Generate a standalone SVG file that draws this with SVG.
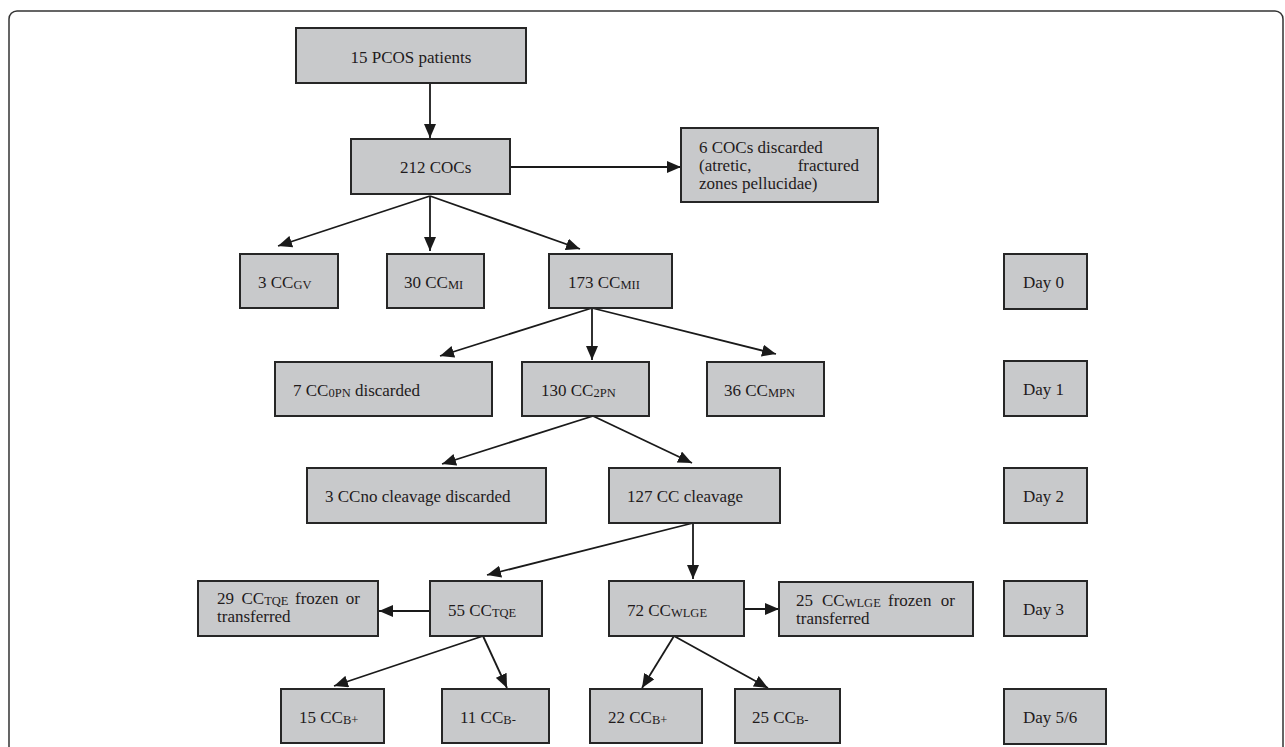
<svg xmlns="http://www.w3.org/2000/svg" width="1285" height="747" viewBox="0 0 1285 747">
<defs>
<marker id="ah" viewBox="0 0 14 12" refX="14" refY="6" markerWidth="14" markerHeight="12" markerUnits="userSpaceOnUse" orient="auto">
<path d="M0,0 L14,6 L0,12 z" fill="#1a1a1a"/>
</marker>
<style>
.box{fill:#c8c9cb;stroke:#262626;stroke-width:2}
text{font-family:"Liberation Serif","Times New Roman",serif;font-size:17px;fill:#1f1b1c}
.sub{font-size:12.5px}
.c{text-anchor:middle}
.e{text-anchor:end}
#connectors line{stroke:#1a1a1a;stroke-width:1.8;fill:none;marker-end:url(#ah)}
</style>
</defs>
<rect x="9" y="11" width="1274" height="800" rx="8" fill="none" stroke="#333" stroke-width="1.5"/>

<g id="connectors">
<line x1="430" y1="83" x2="430" y2="138"/>
<line x1="484" y1="167" x2="681" y2="167"/>
<line x1="430" y1="196" x2="278" y2="246"/>
<line x1="430" y1="196" x2="430" y2="251"/>
<line x1="430" y1="196" x2="580" y2="249"/>
<line x1="592" y1="308" x2="440" y2="356"/>
<line x1="592" y1="308" x2="592" y2="360"/>
<line x1="592" y1="308" x2="776" y2="354"/>
<line x1="593" y1="416" x2="442" y2="464"/>
<line x1="593" y1="416" x2="692" y2="463"/>
<line x1="693" y1="523" x2="487" y2="575"/>
<line x1="693" y1="523" x2="693" y2="579"/>
<line x1="441" y1="611" x2="379" y2="611"/>
<line x1="734" y1="609" x2="779" y2="609"/>
<line x1="483" y1="636" x2="334" y2="686"/>
<line x1="483" y1="636" x2="507" y2="688"/>
<line x1="674" y1="636" x2="642" y2="688"/>
<line x1="674" y1="636" x2="768" y2="688"/>
</g>

<g id="n-pcos"><rect class="box" x="296" y="28" width="230" height="55"/><text class="c" x="411" y="63">15 PCOS patients</text></g>
<g id="n-cocs"><rect class="box" x="351" y="139" width="159" height="55"/><text x="400" y="173">212 COCs</text></g>
<g id="n-discarded"><rect class="box" x="681" y="128" width="197" height="74"/>
<text x="699" y="153">6 COCs discarded</text>
<text x="699" y="171">(atretic,</text><text class="e" x="859" y="171">fractured</text>
<text x="699" y="189">zones pellucidae)</text></g>

<g id="n-gv"><rect class="box" x="240" y="254" width="98" height="54"/><text x="258" y="288">3 CC<tspan class="sub" dy="1">GV</tspan></text></g>
<g id="n-mi"><rect class="box" x="387" y="254" width="97" height="54"/><text x="404" y="288">30 CC<tspan class="sub" dy="1">MI</tspan></text></g>
<g id="n-mii"><rect class="box" x="549" y="254" width="123" height="54"/><text x="568" y="288">173 CC<tspan class="sub" dy="1">MII</tspan></text></g>

<g id="n-0pn"><rect class="box" x="275" y="362" width="217" height="54"/><text x="293" y="396">7 CC<tspan class="sub" dy="1">0PN</tspan><tspan dy="-1"> discarded</tspan></text></g>
<g id="n-2pn"><rect class="box" x="522" y="362" width="127" height="54"/><text x="541" y="396">130 CC<tspan class="sub" dy="1">2PN</tspan></text></g>
<g id="n-mpn"><rect class="box" x="707" y="362" width="117" height="54"/><text x="724" y="396">36 CC<tspan class="sub" dy="1">MPN</tspan></text></g>

<g id="n-nocleave"><rect class="box" x="307" y="468" width="239" height="55"/><text x="325" y="502">3 CCno cleavage discarded</text></g>
<g id="n-cleave"><rect class="box" x="609" y="468" width="171" height="55"/><text x="627" y="502">127 CC cleavage</text></g>

<g id="n-tqe-frozen"><rect class="box" x="198" y="581" width="180" height="55"/>
<text x="217" y="604">29</text><text x="241.5" y="604">CC<tspan class="sub" dy="1">TQE</tspan></text><text x="295" y="604">frozen</text><text class="e" x="360" y="604">or</text>
<text x="217" y="622">transferred</text></g>
<g id="n-tqe"><rect class="box" x="430" y="581" width="112" height="55"/><text x="448" y="616">55 CC<tspan class="sub" dy="1">TQE</tspan></text></g>
<g id="n-wlge"><rect class="box" x="609" y="581" width="135" height="55"/><text x="627" y="616">72 CC<tspan class="sub" dy="1">WLGE</tspan></text></g>
<g id="n-wlge-frozen"><rect class="box" x="779" y="582" width="194" height="54"/>
<text x="796" y="606">25</text><text x="822" y="606">CC<tspan class="sub" dy="1">WLGE</tspan></text><text x="888" y="606">frozen</text><text class="e" x="955" y="606">or</text>
<text x="796" y="624">transferred</text></g>

<g id="n-tqe-bp"><rect class="box" x="281" y="689" width="103" height="54"/><text x="299" y="723">15 CC<tspan class="sub" dy="1">B+</tspan></text></g>
<g id="n-tqe-bm"><rect class="box" x="442" y="689" width="107" height="54"/><text x="460" y="723">11 CC<tspan class="sub" dy="1">B-</tspan></text></g>
<g id="n-wlge-bp"><rect class="box" x="590" y="689" width="112" height="54"/><text x="608" y="723">22 CC<tspan class="sub" dy="1">B+</tspan></text></g>
<g id="n-wlge-bm"><rect class="box" x="735" y="689" width="105" height="54"/><text x="752" y="723">25 CC<tspan class="sub" dy="1">B-</tspan></text></g>

<g id="n-day0"><rect class="box" x="1004" y="254" width="83" height="55"/><text x="1023" y="288">Day 0</text></g>
<g id="n-day1"><rect class="box" x="1004" y="361" width="83" height="55"/><text x="1023" y="395">Day 1</text></g>
<g id="n-day2"><rect class="box" x="1004" y="468" width="83" height="55"/><text x="1023" y="502">Day 2</text></g>
<g id="n-day3"><rect class="box" x="1004" y="581" width="83" height="55"/><text x="1023" y="615">Day 3</text></g>
<g id="n-day56"><rect class="box" x="1004" y="689" width="102" height="55"/><text x="1023" y="723">Day 5/6</text></g>
</svg>
